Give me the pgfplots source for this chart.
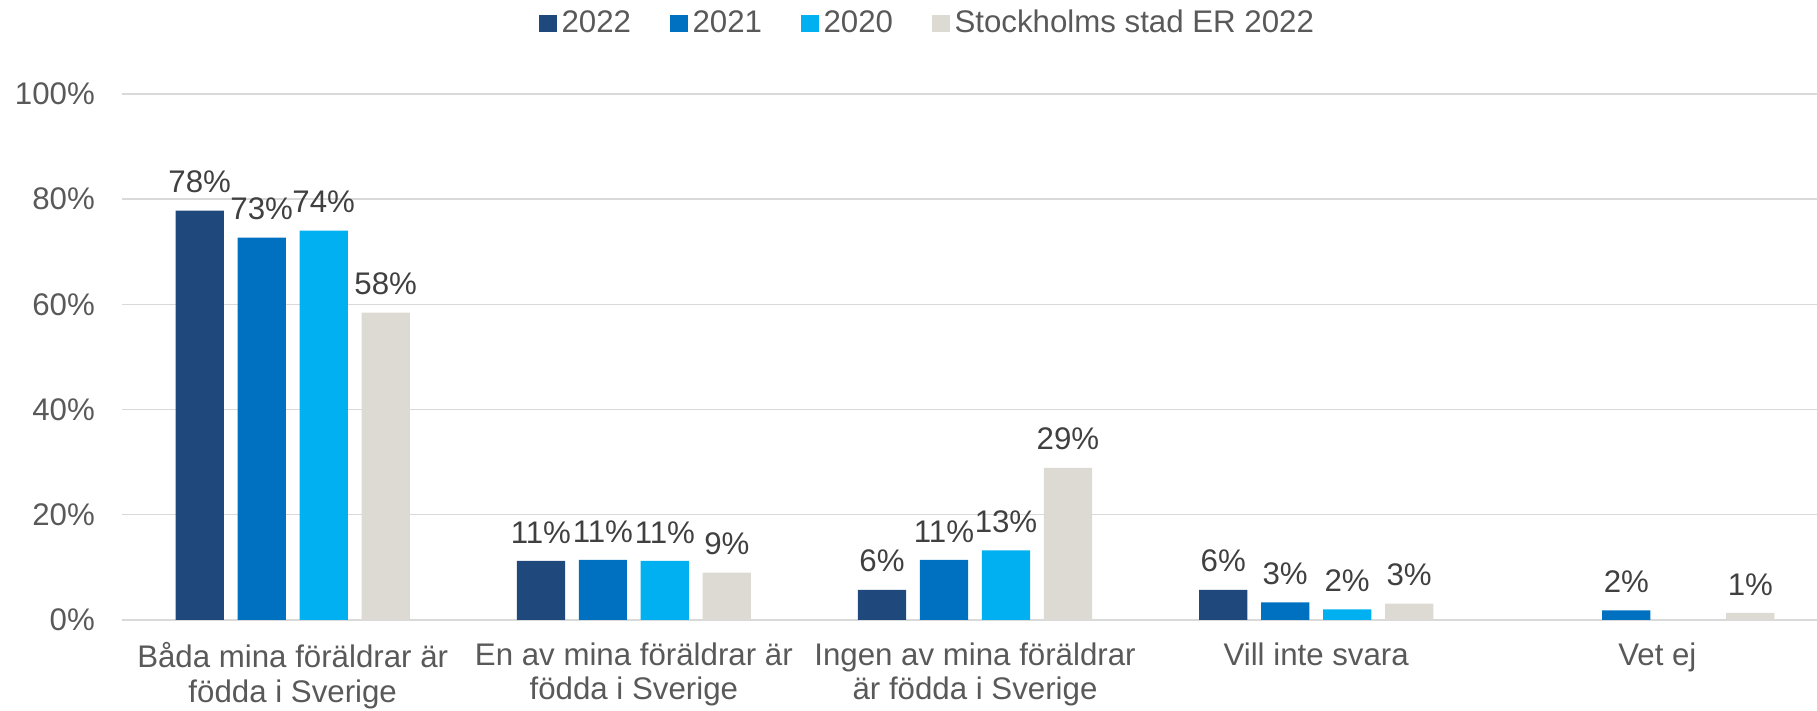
\documentclass[border=0pt]{standalone}
\usepackage{fontspec}
\setmainfont{Liberation Sans}
\usepackage{pgfplots}
\pgfplotsset{compat=1.18}
\definecolor{c22}{HTML}{1F497D}
\definecolor{c21}{HTML}{0070C0}
\definecolor{c20}{HTML}{00B0F0}
\definecolor{cst}{HTML}{DDDAD3}
\definecolor{txt}{HTML}{595959}
\definecolor{lbl}{HTML}{404040}
\definecolor{gridc}{HTML}{D9D9D9}
\newcommand{\chartfont}{\fontsize{12.5}{13.7}\selectfont}
\begin{document}
\begin{tikzpicture}
\begin{axis}[
  name=ax,
  scale only axis, width=678pt, height=210.4pt,
  xmin=-0.499, xmax=4.468, ymin=0, ymax=100,
  ybar=5.5pt, bar width=19.3pt,
  axis line style={draw=none},
  major tick length=0pt,
  ytick={0,20,40,60,80,100},
  yticklabel={\pgfmathprintnumber{\tick}\%},
  xtick={0,1,2,3,4},
  xticklabels={{Båda mina föräldrar är\\födda i Sverige},{En av mina föräldrar är\\födda i Sverige},{Ingen av mina föräldrar\\är födda i Sverige},{Vill inte svara},{Vet ej}},
  xticklabel style={align=center, yshift=-5.6pt},
  yticklabel style={xshift=-7.5pt},
  tick label style={font=\chartfont, text=txt},
  /pgf/number format/assume math mode=true,
  ymajorgrids, grid style={draw=gridc, line width=0.6pt},
  nodes near coords={\pgfmathprintnumber[fixed,precision=0]{\pgfplotspointmeta}\%},
  nodes near coords style={font=\chartfont, text=lbl, yshift=3.5pt},
  legend style={at={(0.476,1.1345)}, anchor=center, draw=none, fill=none,
    font=\chartfont, text=txt, legend columns=4,
    /tikz/every even column/.append style={column sep=13.6pt}},
  legend image code/.code={\fill[#1,draw=none] (0pt,-3.5pt) rectangle (7pt,3.5pt);},
]
\addplot[fill=c22, draw=none] coordinates {(0,77.8) (1,11.2) (2,5.7) (3,5.7)};
\addplot[fill=c21, draw=none] coordinates {(0,72.7) (1,11.4) (2,11.4) (3,3.3) (4,1.8)};
\addplot[fill=c20, draw=none] coordinates {(0,74.0) (1,11.2) (2,13.2) (3,2.0)};
\addplot[fill=cst, draw=none] coordinates {(0,58.4) (1,9.0) (2,28.9) (3,3.1) (4,1.3)};
\legend{2022,2021,2020,Stockholms stad ER 2022}
\end{axis}
\pgfresetboundingbox
\path[use as bounding box] (ax.south west) ++(-49pt,-36.4pt) rectangle ([shift={(0pt,37.6pt)}]ax.north east);
\end{tikzpicture}
\end{document}
